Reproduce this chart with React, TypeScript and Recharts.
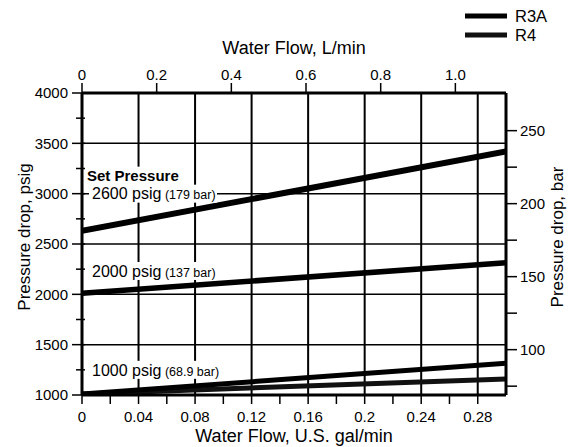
import { LineChart, Line, XAxis, YAxis, CartesianGrid, ReferenceDot, Legend, Label } from "recharts";

const FONT = "'Liberation Sans', Arial, Helvetica, sans-serif";

// flow in U.S. gal/min, pressure drop in psig
const flowGpm = [0, 0.3];
const set2600 = [2630, 3420];
const set2000 = [2010, 2315];
const r3a1000 = [1010, 1315];
const r41000 = [1010, 1160];

const seriesNames = ["R3A", "R4"];
const seriesColors = ["#000", "#111"];

const gpmTicks = [0, 0.02, 0.04, 0.06, 0.08, 0.1, 0.12, 0.14, 0.16, 0.18, 0.2, 0.22, 0.24, 0.26, 0.28];
const gpmMajor = [0, 0.04, 0.08, 0.12, 0.16, 0.2, 0.24, 0.28];
const lpmTicks = [0, 0.2, 0.4, 0.6, 0.8, 1.0];
const lpmLabels = ["0", "0.2", "0.4", "0.6", "0.8", "1.0"];
const psiTicks = [1000, 1250, 1500, 1750, 2000, 2250, 2500, 2750, 3000, 3250, 3500, 3750, 4000];
const psiGrid = [1500, 2000, 2500, 3000, 3500];
const barTicks = [75, 100, 125, 150, 175, 200, 225, 250];

const LPM_PER_GPM = 3.78541;
const PSI_PER_BAR = 14.5038;

const chartData = flowGpm.map((q, i) => ({
  q,
  lpm: q * LPM_PER_GPM,
  p2600: set2600[i],
  p2000: set2000[i],
  r3a: r3a1000[i],
  r4: r41000[i],
}));

const near = (a: number, list: number[]) => list.some((v) => Math.abs(v - a) < 1e-6);

function BottomTick({ x, y, payload }: any) {
  const v = payload.value;
  return (
    <g>
      <line x1={x} x2={x} y1={y} y2={y + 9} stroke="#000" strokeWidth={1.5} />
      {near(v, gpmMajor) && (
        <text x={x} y={y + 27} textAnchor="middle" fontSize={15} fontFamily={FONT} fill="#000">
          {String(v)}
        </text>
      )}
    </g>
  );
}

function TopTick({ x, y, payload, index }: any) {
  return (
    <g>
      <line x1={x} x2={x} y1={y - 10} y2={y} stroke="#000" strokeWidth={1.5} />
      <text x={x} y={y - 13} textAnchor="middle" fontSize={15} fontFamily={FONT} fill="#000">
        {lpmLabels[index] ?? String(payload.value)}
      </text>
    </g>
  );
}

function LeftTick({ x, y, payload }: any) {
  const v = payload.value;
  const major = v % 500 === 0;
  return (
    <g>
      <line x1={major ? x - 10 : x - 6} x2={x + 3} y1={y} y2={y} stroke="#000" strokeWidth={1.5} />
      {major && (
        <text x={x - 14} y={y} dy="0.36em" textAnchor="end" fontSize={15} fontFamily={FONT} fill="#000">
          {v}
        </text>
      )}
    </g>
  );
}

function RightTick({ x, y, payload }: any) {
  const v = payload.value;
  const major = v % 50 === 0;
  return (
    <g>
      <line x1={x} x2={x + 11} y1={y} y2={y} stroke="#000" strokeWidth={1.5} />
      {major && (
        <text x={x + 14} y={y} dy="0.36em" textAnchor="start" fontSize={15} fontFamily={FONT} fill="#000">
          {v}
        </text>
      )}
    </g>
  );
}

function SetLabel({ cx, cy, big, small, w, title }: any) {
  return (
    <g>
      {title && <rect x={cx + 4} y={cy - 27} width={106} height={19} fill="#fff" />}
      <rect x={cx + 7} y={cy - 9} width={w} height={18} fill="#fff" />
      {title && (
        <text x={cx + 5} y={cy - 13} fontSize={15} fontWeight="bold" fontFamily={FONT} fill="#000">
          {title}
        </text>
      )}
      <text x={cx + 10} y={cy} dy="0.36em" fontSize={16} fontFamily={FONT} fill="#000">
        {big}
        <tspan fontSize={12.5}> {small}</tspan>
      </text>
    </g>
  );
}

function LegendContent() {
  return (
    <svg width={110} height={48}>
      {seriesNames.map((name, i) => (
        <g key={name}>
          <line x1={8} x2={50} y1={13 + i * 19} y2={13 + i * 19} stroke={seriesColors[i]} strokeWidth={5} />
          <text x={58} y={13 + i * 19} dy="0.36em" fontSize={16.5} fontFamily={FONT} fill="#000">
            {name}
          </text>
        </g>
      ))}
    </svg>
  );
}

export default function App() {
  return (
    <div style={{ position: "absolute", left: 0, top: 0, background: "#fff" }}>
      <LineChart width={570} height={447} data={chartData} margin={{ top: 0, right: 0, bottom: 0, left: 0 }}>
        <CartesianGrid xAxisId="bottom" yAxisId="left" horizontal={false} verticalValues={gpmMajor.slice(1)} stroke="#000" strokeWidth={2} />
        <CartesianGrid xAxisId="bottom" yAxisId="left" vertical={false} horizontalValues={psiGrid} stroke="#000" strokeWidth={1.5} />
        <XAxis
          xAxisId="bottom"
          dataKey="q"
          type="number"
          orientation="bottom"
          domain={[0, 0.3]}
          allowDataOverflow
          ticks={gpmTicks}
          interval={0}
          height={52}
          tickSize={0}
          tickMargin={0}
          tickLine={false}
          tick={<BottomTick />}
          axisLine={{ stroke: "#000", strokeWidth: 3 }}
        >
          <Label
            content={({ viewBox }: any) => (
              <text x={viewBox.x + viewBox.width / 2} y={442} textAnchor="middle" fontSize={18} fontFamily={FONT} fill="#000">
                Water Flow, U.S. gal/min
              </text>
            )}
          />
        </XAxis>
        <XAxis
          xAxisId="top"
          dataKey="lpm"
          type="number"
          orientation="top"
          domain={[0, 0.3 * LPM_PER_GPM]}
          allowDataOverflow
          ticks={lpmTicks}
          interval={0}
          height={93}
          tickSize={0}
          tickMargin={0}
          tickLine={false}
          tick={<TopTick />}
          axisLine={{ stroke: "#000", strokeWidth: 3 }}
        >
          <Label
            content={({ viewBox }: any) => (
              <text x={viewBox.x + viewBox.width / 2} y={54} textAnchor="middle" fontSize={18} fontFamily={FONT} fill="#000">
                Water Flow, L/min
              </text>
            )}
          />
        </XAxis>
        <YAxis
          yAxisId="left"
          type="number"
          domain={[1000, 4000]}
          allowDataOverflow
          ticks={psiTicks}
          interval={0}
          width={82}
          tickSize={0}
          tickMargin={0}
          tickLine={false}
          tick={<LeftTick />}
          axisLine={{ stroke: "#000", strokeWidth: 3 }}
        >
          <Label
            content={() => (
              <text x={24} y={237} transform="rotate(-90 24 237)" textAnchor="middle" dy="0.36em" fontSize={17} fontFamily={FONT} fill="#000">
                Pressure drop, psig
              </text>
            )}
          />
        </YAxis>
        <YAxis
          yAxisId="right"
          orientation="right"
          type="number"
          domain={[1000 / PSI_PER_BAR, 4000 / PSI_PER_BAR]}
          allowDataOverflow
          ticks={barTicks}
          interval={0}
          width={64}
          tickSize={0}
          tickMargin={0}
          tickLine={false}
          tick={<RightTick />}
          axisLine={{ stroke: "#000", strokeWidth: 3 }}
        >
          <Label
            content={() => (
              <text x={557} y={237} transform="rotate(-90 557 237)" textAnchor="middle" dy="0.36em" fontSize={17} fontFamily={FONT} fill="#000">
                Pressure drop, bar
              </text>
            )}
          />
        </YAxis>
        <Legend
          layout="vertical"
          align="center"
          verticalAlign="middle"
          content={<LegendContent />}
          wrapperStyle={{ position: "absolute", top: 3, left: 457, width: 110, height: 48 }}
        />
        <Line xAxisId="bottom" yAxisId="left" dataKey="p2600" stroke="#000" strokeWidth={6} dot={false} legendType="none" isAnimationActive={false} />
        <Line xAxisId="bottom" yAxisId="left" dataKey="p2000" stroke="#000" strokeWidth={5.5} dot={false} legendType="none" isAnimationActive={false} />
        <Line xAxisId="bottom" yAxisId="left" dataKey="r4" name={seriesNames[1]} stroke={seriesColors[1]} strokeWidth={5} dot={false} isAnimationActive={false} />
        <Line xAxisId="bottom" yAxisId="left" dataKey="r3a" name={seriesNames[0]} stroke={seriesColors[0]} strokeWidth={5} dot={false} isAnimationActive={false} />
        <ReferenceDot xAxisId="bottom" yAxisId="left" x={0} y={3000} r={0}
          shape={(p: any) => <SetLabel cx={p.cx} cy={p.cy} title="Set Pressure" big="2600 psig" small="(179 bar)" w={128} />} />
        <ReferenceDot xAxisId="bottom" yAxisId="left" x={0} y={2232} r={0}
          shape={(p: any) => <SetLabel cx={p.cx} cy={p.cy} big="2000 psig" small="(137 bar)" w={128} />} />
        <ReferenceDot xAxisId="bottom" yAxisId="left" x={0} y={1250} r={0}
          shape={(p: any) => <SetLabel cx={p.cx} cy={p.cy} big="1000 psig" small="(68.9 bar)" w={132} />} />
      </LineChart>
    </div>
  );
}
